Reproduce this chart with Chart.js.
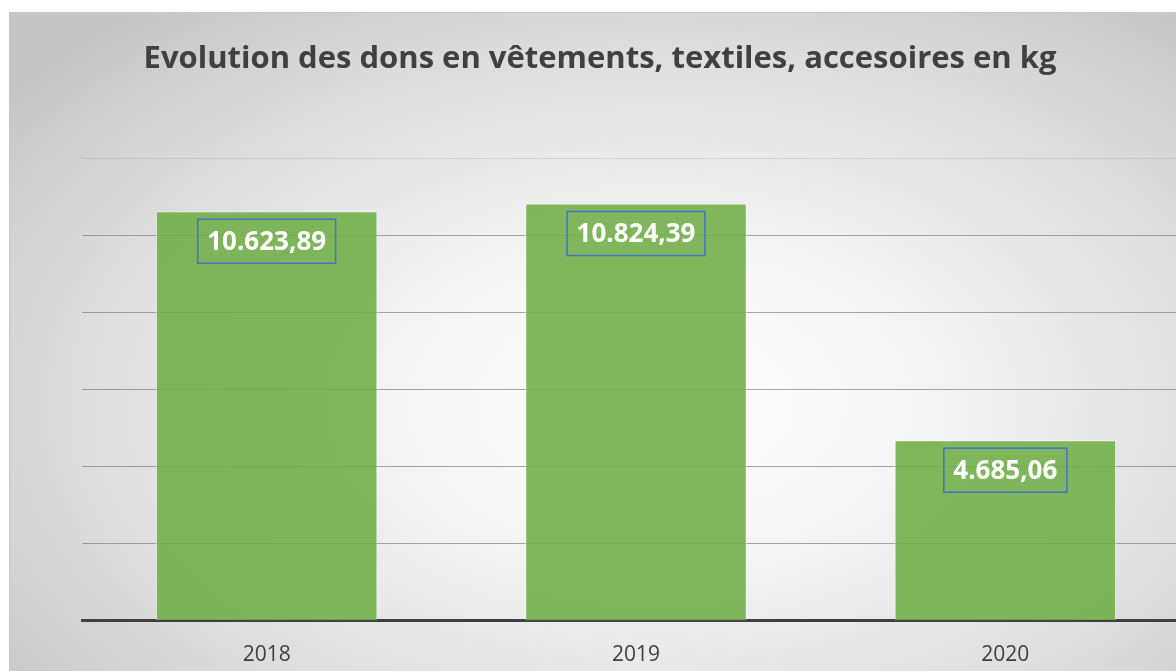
<!DOCTYPE html>
<html>
<head>
<meta charset="utf-8">
<script src="https://cdn.jsdelivr.net/npm/chart.js@4/dist/chart.umd.min.js"></script>
<style>
  html, body { margin: 0; padding: 0; background: #fff; overflow: hidden; width: 1176px; height: 671px; }
  #wrap {
    position: absolute; left: 9px; top: 12px; width: 1182px; height: 673px;
    border-top: 1px solid #c6c6c6; border-left: 1px solid #c6c6c6;
    background: radial-gradient(ellipse 70% 75% at 55% 58%, #ffffff 0%, #f6f6f6 30%, #dcdcdc 72%, #c6c6c6 100%);
  }
</style>
</head>
<body>
<div id="wrap"><canvas id="chart"></canvas></div>
<script>
// Dons en vêtements, textiles, accessoires (kg)
const years = ["2018", "2019", "2020"];
const donsKg = [10623.89, 10824.39, 4685.06];
const yMax = 12000;
const yStep = 2000;

function formatKg(v) {
  // French style: dot for thousands, comma for decimals
  const parts = v.toFixed(2).split(".");
  const ent = parts[0].replace(/\B(?=(\d{3})+(?!\d))/g, ".");
  return ent + "," + parts[1];
}

// Boxed value labels drawn inside each bar
const boxedLabels = {
  id: "boxedLabels",
  afterDatasetsDraw(chart) {
    const ctx = chart.ctx;
    const meta = chart.getDatasetMeta(0);
    ctx.save();
    ctx.font = "bold 26px 'Open Sans'";
    ctx.textAlign = "center";
    ctx.textBaseline = "middle";
    meta.data.forEach((bar, i) => {
      const txt = formatKg(chart.data.datasets[0].data[i]);
      const w = ctx.measureText(txt).width + 19;
      const h = 44;
      const top = bar.y + 8;
      ctx.strokeStyle = "#4472C4";
      ctx.lineWidth = 1.5;
      ctx.strokeRect(bar.x - w / 2, top, w, h);
      ctx.fillStyle = "#ffffff";
      ctx.fillText(txt, bar.x, top + h / 2 + 1);
    });
    ctx.restore();
  }
};

new Chart(document.getElementById("chart"), {
  type: "bar",
  data: {
    labels: years,
    datasets: [{
      data: donsKg,
      backgroundColor: "rgba(112,173,71,0.88)",
      borderColor: "rgba(255,255,255,0.55)",
      borderWidth: 1,
      categoryPercentage: 1,
      barPercentage: 0.6
    }]
  },
  options: {
    responsive: true,
    maintainAspectRatio: false,
    animation: false,
    layout: { padding: { left: 0, right: 2, bottom: 4 } },
    plugins: {
      legend: { display: false },
      tooltip: { enabled: false },
      title: {
        display: true,
        text: "Evolution des dons en vêtements, textiles, accesoires en kg",
        color: "#404040",
        font: { family: "'Open Sans'", size: 31, weight: "bold" },
        padding: { top: 28, bottom: 80 }
      }
    },
    scales: {
      y: {
        min: 0,
        max: yMax,
        afterFit: (scale) => { scale.width = 72; },
        ticks: { display: false, stepSize: yStep },
        border: { display: false },
        grid: {
          drawTicks: false,
          lineWidth: 1,
          color: (c) => c.tick && c.tick.value === yMax ? "rgba(160,160,160,0.35)" : "rgba(110,110,110,0.6)"
        }
      },
      x: {
        grid: { display: false },
        border: { color: "#404040", width: 3 },
        ticks: {
          color: "#404040",
          font: { family: "'Open Sans'", size: 21 },
          padding: 14
        }
      }
    }
  },
  plugins: [boxedLabels]
});
</script>
</body>
</html>
